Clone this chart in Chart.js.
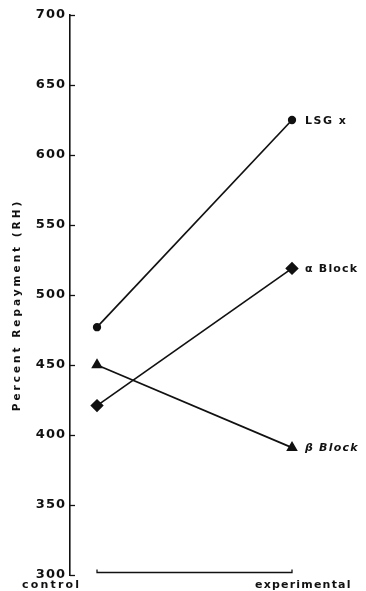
<!DOCTYPE html>
<html>
<head>
<meta charset="utf-8">
<script src="https://cdn.jsdelivr.net/npm/chart.js@4.4.1/dist/chart.umd.min.js"></script>
<style>
  html, body { margin: 0; padding: 0; background: #fff; }
  #wrap { width: 366px; height: 591px; }
</style>
</head>
<body>
<div id="wrap"><canvas id="c" width="366" height="591"></canvas></div>
<script>
// Conditions on the horizontal axis (0 = control, 1 = experimental)
const categories = ['control', 'experimental'];
const conditionX = [0, 1];

// Percent repayment (RH) for each group
const seriesNames = ['LSG x', 'α Block', 'β Block'];
const lsgxValues = [477, 625];
const alphaBlockValues = [421, 519];
const betaBlockValues = [450, 391];

// Vertical axis range and tick step
const yMin = 300;
const yMax = 700;
const yStep = 50;

const axisTitle = 'Percent Repayment (RH)';

function toPoints(values) {
  return values.map((v, i) => ({ x: conditionX[i], y: v }));
}

const ink = '#111';
const face = '"DejaVu Sans", "Liberation Sans", Arial, sans-serif';

// Draws the inward ticks, the bracket under the conditions, the condition
// names, the rotated axis title and the group names beside the end points.
const decorations = {
  id: 'decorations',
  beforeDraw(chart) {
    chart.ctx.letterSpacing = '1px';
  },
  afterDraw(chart) {
    const ctx = chart.ctx;
    const y = chart.scales.y;
    const x = chart.scales.x;
    const area = chart.chartArea;
    ctx.save();
    ctx.letterSpacing = '0px';
    ctx.strokeStyle = ink;
    ctx.lineWidth = 1.3;

    // inward tick marks on the value axis
    y.ticks.forEach(t => {
      const py = Math.round(y.getPixelForValue(t.value)) + 0.5;
      ctx.beginPath();
      ctx.moveTo(area.left, py);
      ctx.lineTo(area.left + 5, py);
      ctx.stroke();
    });

    // bracket spanning the two conditions
    const bx0 = x.getPixelForValue(conditionX[0]);
    const bx1 = x.getPixelForValue(conditionX[1]);
    const by = area.bottom - 2.5;
    ctx.beginPath();
    ctx.moveTo(bx0, by - 3);
    ctx.lineTo(bx0, by);
    ctx.lineTo(bx1, by);
    ctx.lineTo(bx1, by - 3);
    ctx.stroke();

    // condition names
    ctx.fillStyle = ink;
    ctx.textBaseline = 'middle';
    ctx.textAlign = 'left';
    ctx.font = 'bold 11px ' + face;
    ctx.letterSpacing = '2.2px';
    ctx.fillText(categories[0], 22, 585);
    ctx.letterSpacing = '1.2px';
    ctx.fillText(categories[1], 255, 585);

    // rotated axis title
    ctx.save();
    ctx.translate(17, 305);
    ctx.rotate(-Math.PI / 2);
    ctx.textAlign = 'center';
    ctx.font = 'bold 10.5px ' + face;
    ctx.letterSpacing = '3px';
    ctx.fillText(axisTitle, 0, 0);
    ctx.restore();

    // group names at the experimental end of each line
    ctx.textAlign = 'left';
    chart.data.datasets.forEach((ds, i) => {
      const meta = chart.getDatasetMeta(i);
      const last = meta.data[meta.data.length - 1];
      ctx.font = (i === 2 ? 'italic ' : '') + 'bold 11px ' + face;
      ctx.letterSpacing = i === 0 ? '1.5px' : '1.2px';
      ctx.fillText(ds.label, last.x + 13, last.y + 1);
    });
    ctx.restore();
  }
};

const common = {
  borderColor: ink,
  backgroundColor: ink,
  borderWidth: 1.7,
  pointBorderColor: ink,
  pointBackgroundColor: ink,
  fill: false,
  tension: 0
};

new Chart(document.getElementById('c'), {
  type: 'line',
  data: {
    datasets: [
      Object.assign({ label: seriesNames[0], data: toPoints(lsgxValues), pointStyle: 'circle', pointRadius: 3.3 }, common),
      Object.assign({ label: seriesNames[1], data: toPoints(alphaBlockValues), pointStyle: 'rectRot', pointRadius: 5.5 }, common),
      Object.assign({ label: seriesNames[2], data: toPoints(betaBlockValues), pointStyle: 'triangle', pointRadius: 5 }, common)
    ]
  },
  options: {
    responsive: false,
    animation: false,
    devicePixelRatio: 1,
    layout: { padding: { top: 15, bottom: 16, right: 66, left: 0 } },
    plugins: {
      legend: { display: false },
      tooltip: { enabled: false },
      title: { display: false }
    },
    scales: {
      x: {
        type: 'linear',
        display: false,
        min: -0.1385,
        max: 1.041
      },
      y: {
        type: 'linear',
        min: yMin,
        max: yMax,
        afterFit(scale) { scale.width = 70; },
        border: { display: true, color: ink, width: 1.6 },
        grid: { drawOnChartArea: false, drawTicks: false },
        ticks: {
          stepSize: yStep,
          color: ink,
          padding: 4,
          font: { family: face, size: 13, weight: 'bold' }
        }
      }
    }
  },
  plugins: [decorations]
});
</script>
</body>
</html>
